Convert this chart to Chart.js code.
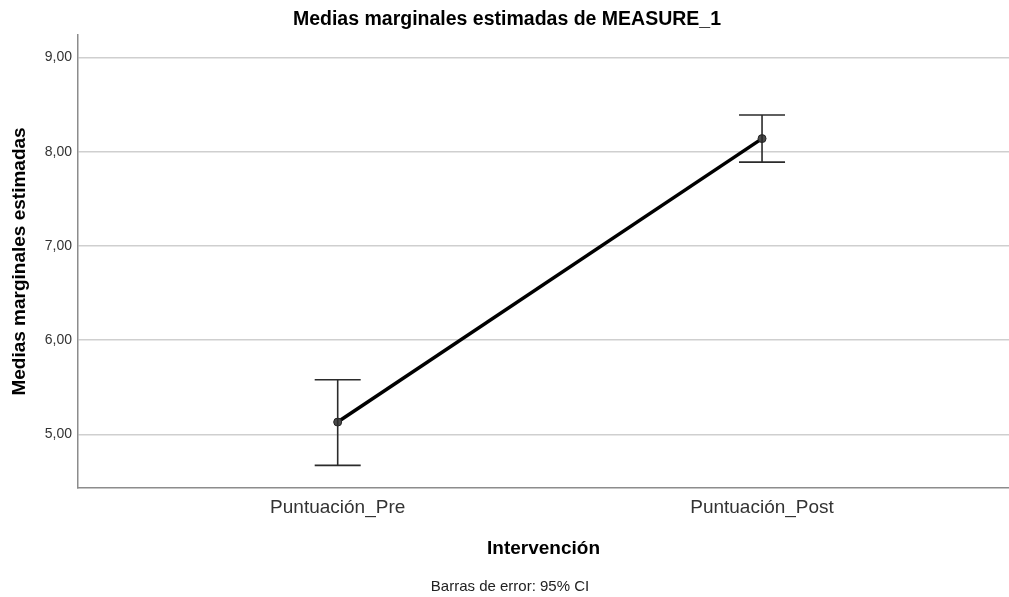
<!DOCTYPE html>
<html lang="es">
<head>
<meta charset="UTF-8" />
<title>Medias marginales estimadas de MEASURE_1</title>
<script src="https://cdn.jsdelivr.net/npm/chart.js"></script>
<style>
    html, body { margin: 0; padding: 0; background: #fff; }
    #wrap { width: 1009px; height: 597px; position: relative; }
</style>
</head>
<body>
<div id="wrap"><canvas id="chart"></canvas></div>
<script>
    // data
    const categories = ['Puntuación_Pre', 'Puntuación_Post'];
    const means = [5.13, 8.14];
    const ciLower = [4.67, 7.89];
    const ciUpper = [5.58, 8.39];
    const yTicks = [5, 6, 7, 8, 9];

    const FONT = "'Liberation Sans', Arial, sans-serif";

    // error bars with caps, drawn through the chart scales
    const errorBars = {
        id: 'errorBars',
        afterDatasetsDraw(chart) {
            const ctx = chart.ctx;
            const xs = chart.scales.x, ys = chart.scales.y;
            ctx.save();
            ctx.strokeStyle = '#2b2b2b';
            ctx.lineWidth = 1.6;
            means.forEach((m, i) => {
                const x = xs.getPixelForValue(i);
                const top = ys.getPixelForValue(ciUpper[i]);
                const bot = ys.getPixelForValue(ciLower[i]);
                ctx.beginPath();
                ctx.moveTo(x, top); ctx.lineTo(x, bot);
                ctx.moveTo(x - 23, top); ctx.lineTo(x + 23, top);
                ctx.moveTo(x - 23, bot); ctx.lineTo(x + 23, bot);
                ctx.stroke();
            });
            ctx.restore();
        }
    };

    const texts = {
        id: 'texts',
        afterDraw(chart) {
            const ctx = chart.ctx;
            ctx.save();
            ctx.textAlign = 'center';
            ctx.textBaseline = 'middle';
            ctx.fillStyle = '#000';
            ctx.font = 'bold 19.5px ' + FONT;
            ctx.fillText('Medias marginales estimadas de MEASURE_1', 507, 20);
            ctx.fillStyle = '#222';
            ctx.font = '15px ' + FONT;
            ctx.fillText('Barras de error: 95% CI', 510, 587);
            ctx.restore();
        }
    };

    new Chart(document.getElementById('chart'), {
        type: 'line',
        data: {
            datasets: [{
                data: means.map((v, i) => ({ x: i, y: v })),
                borderColor: '#000',
                borderWidth: 3.5,
                pointRadius: 4,
                pointBackgroundColor: '#4a4a4a',
                pointBorderColor: '#222',
                pointBorderWidth: 1,
                tension: 0
            }]
        },
        options: {
            responsive: true,
            maintainAspectRatio: false,
            animation: false,
            layout: { autoPadding: false, padding: { top: 35, left: 0, right: 0, bottom: 0 } },
            plugins: {
                legend: { display: false },
                tooltip: { enabled: false },
                title: { display: false }
            },
            scales: {
                x: {
                    type: 'linear',
                    min: -0.612,
                    max: 1.582,
                    afterBuildTicks: s => { s.ticks = categories.map((c, i) => ({ value: i })); },
                    afterFit: s => { s.height = 109; },
                    ticks: {
                        callback: v => categories[v],
                        color: '#333',
                        font: { family: FONT, size: 19 },
                        padding: 8,
                        maxRotation: 0
                    },
                    grid: { display: false, drawTicks: false },
                    border: { display: true, color: '#8c8c8c', width: 1.5 },
                    title: {
                        display: true,
                        text: 'Intervención',
                        color: '#000',
                        font: { family: FONT, size: 19, weight: 'bold' },
                        padding: { top: 0, bottom: 37 }
                    }
                },
                y: {
                    min: 4.43,
                    max: 9.24,
                    afterBuildTicks: s => { s.ticks = yTicks.map(v => ({ value: v })); },
                    afterFit: s => { s.width = 78; },
                    ticks: {
                        callback: v => v.toFixed(2).replace('.', ','),
                        color: '#333',
                        font: { family: FONT, size: 14 },
                        padding: 6
                    },
                    grid: { color: '#cfcfcf', lineWidth: 1.5, drawTicks: false },
                    border: { display: true, color: '#8c8c8c', width: 1.5 },
                    title: {
                        display: true,
                        text: 'Medias marginales estimadas',
                        color: '#000',
                        font: { family: FONT, size: 19, weight: 'bold' },
                        padding: { top: 8, bottom: 0 }
                    }
                }
            }
        },
        plugins: [errorBars, texts]
    });
</script>
</body>
</html>
